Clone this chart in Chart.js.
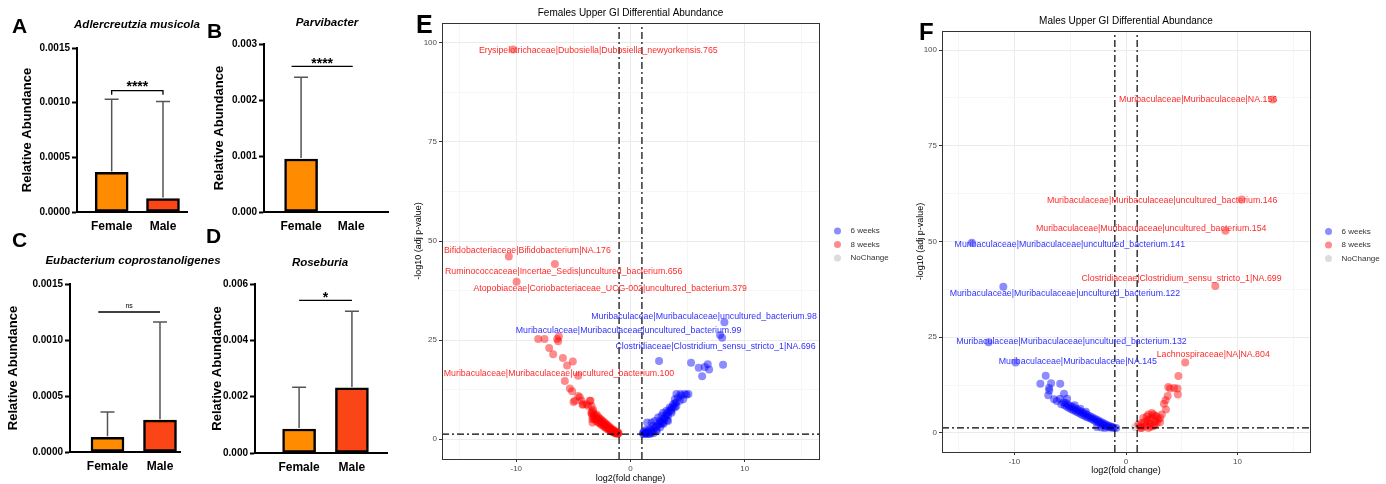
<!DOCTYPE html>
<html>
<head>
<meta charset="utf-8">
<script src="https://cdn.jsdelivr.net/npm/chart.js@4.4.0/dist/chart.umd.min.js"></script>
<style>
  body { margin: 0; background: #fff; width: 1386px; height: 484px; position: relative; overflow: hidden; font-family: "Liberation Sans", Arial, sans-serif; }
  canvas { position: absolute; }
  .letter { position: absolute; font-weight: bold; line-height: 1; color: #000; }
  .ptitle { position: absolute; width: 240px; text-align: center; font-weight: bold; font-style: italic; font-size: 11.5px; line-height: 1; color: #000; }
</style>
</head>
<body>
<canvas id="cA" width="200" height="240" style="left:0;top:0"></canvas>
<canvas id="cB" width="200" height="240" style="left:200px;top:0"></canvas>
<canvas id="cC" width="200" height="244" style="left:0;top:240px"></canvas>
<canvas id="cD" width="200" height="244" style="left:200px;top:240px"></canvas>
<canvas id="cE" width="500" height="484" style="left:400px;top:0"></canvas>
<canvas id="cF" width="486" height="484" style="left:900px;top:0"></canvas>

<div class="letter" style="left:12px;top:15px;font-size:21px">A</div>
<div class="letter" style="left:207px;top:20px;font-size:21px">B</div>
<div class="letter" style="left:12px;top:229px;font-size:21px">C</div>
<div class="letter" style="left:206px;top:225px;font-size:21px">D</div>
<div class="letter" style="left:416px;top:12px;font-size:25px">E</div>
<div class="letter" style="left:919px;top:20px;font-size:24px">F</div>

<div class="ptitle" style="left:17px;top:19px">Adlercreutzia musicola</div>
<div class="ptitle" style="left:207px;top:17px">Parvibacter</div>
<div class="ptitle" style="left:13px;top:255px">Eubacterium coprostanoligenes</div>
<div class="ptitle" style="left:200px;top:257px">Roseburia</div>

<script>
// bar panels A-D
var groups = ["Female", "Male"];
var barColors = ["#FF8C00", "#FA4616"];

var meanA = [0.000362, 0.000123];
var sdA = [0.00067, 0.000887];
var ticksA = [0, 0.0005, 0.001, 0.0015];

var meanB = [0.000946, 0];
var sdB = [0.00146, 0];
var ticksB = [0, 0.001, 0.002, 0.003];

var meanC = [0.000132, 0.000284];
var sdC = [0.000226, 0.000876];
var ticksC = [0, 0.0005, 0.001, 0.0015];

var meanD = [0.000852, 0.00231];
var sdD = [0.00148, 0.00272];
var ticksD = [0, 0.002, 0.004, 0.006];

// volcano panels E-F : [log2 fold change, -log10 adj p]
var FC_CUT = 1;
var P_CUT = 1.3;
var X_MIN = -16.5, X_MAX = 16.5, Y_MIN = -5, Y_MAX = 105;
var xGrid = [-15, -10, -5, 0, 5, 10, 15];
var yGrid = [0, 12.5, 25, 37.5, 50, 62.5, 75, 87.5, 100];

var blueE = [[8.22,29.5],[7.84,26.3],[8.02,25.6],[2.5,19.7],[5.3,19.3],[5.97,18.0],[6.76,18.9],[8.1,18.8],[6.5,18.2],[6.88,17.6],[6.27,15.9],
  [4.02,11.4],[4.37,11.4],[4.75,11.4],[5.07,11.4],[4.17,10.5],[3.88,10.1],[4.32,9.7],[4.61,10.1],[4.46,11.0],[4.9,11.2],[3.73,8.8],[4.02,8.4],
  [4.02,9.3],[3.88,8.0],[3.44,8.0],[3.59,7.2],[3.15,7.2],[3.59,6.7],[2.86,6.7],[3.15,6.1],[3.3,5.9],[2.71,5.9],[3.0,5.1],[2.42,5.5],[2.13,4.6],
  [2.57,4.6],[2.85,4.2],[3.29,4.6],[1.84,4.2],[1.46,4.2],[1.98,3.4],[2.71,3.8],[1.69,2.5],[2.27,2.5],[1.4,2.4],[1.25,1.7],[1.11,1.3],[1.54,1.3],
  [1.84,1.7],[1.4,1.5],[1.2,2.0],[1.35,1.5],[1.5,2.0],[1.65,1.6],[1.8,2.3],[1.95,2.0],[2.1,2.8],[2.25,3.2],[2.4,3.6],[2.55,4.0],[2.7,4.4],
  [2.85,5.0],[3.0,5.5],[3.15,6.3],[3.3,6.8],[3.45,7.3],[3.6,7.8],[3.75,8.3],[3.9,9.0],[2.0,1.5],[2.3,2.0],[2.6,3.0],[2.9,3.9],[3.2,4.8],
  [1.1,1.6],[1.28,1.3],[1.7,1.3]];
var redE = [[-10.27,98.3],[-10.65,46.1],[-6.62,44.2],[-9.97,39.7],[-8.08,25.3],[-7.53,25.3],[-6.27,25.9],[-6.42,25.3],[-6.33,24.7],[-7.12,23.0],
  [-6.77,21.4],[-5.92,20.5],[-5.05,19.6],[-5.55,18.6],[-4.58,16.0],[-5.75,14.7],[-5.31,12.8],[-5.11,12.1],[-4.58,10.9],[-4.44,10.6],[-3.5,9.7],
  [-4.99,9.4],[-4.15,8.8],[-3.71,8.4],[-4.87,9.7],[-4.29,9.7],[-3.56,9.7],[-3.41,8.4],[-3.85,8.8],[-3.27,7.4],[-3.41,6.7],[-4.2,8.7],
  [-3.42,6.6],[-3.35,5.9],[-3.3,7.0],[-3.25,5.4],[-3.2,6.3],[-3.15,5.0],[-3.1,6.0],[-3.05,5.5],[-3.0,4.6],[-2.97,6.2],[-2.92,5.2],[-2.88,4.4],
  [-2.85,5.7],[-2.8,4.9],[-2.76,4.1],[-2.72,5.3],[-2.68,4.6],[-2.64,3.9],[-2.6,5.0],[-2.56,4.3],[-2.52,3.6],[-2.48,4.7],[-2.44,4.0],[-2.4,3.4],
  [-2.36,4.4],[-2.32,3.7],[-2.28,3.1],[-2.24,4.1],[-2.2,3.5],[-2.16,2.9],[-2.12,3.8],[-2.08,3.2],[-2.04,2.6],[-2.0,3.5],[-1.96,2.9],[-1.92,2.4],
  [-1.88,3.2],[-1.84,2.7],[-1.8,2.2],[-1.76,2.9],[-1.72,2.4],[-1.68,2.0],[-1.64,2.6],[-1.6,2.2],[-1.56,1.8],[-1.52,2.4],[-1.48,1.9],[-1.44,1.6],
  [-1.4,2.1],[-1.36,1.7],[-1.32,1.5],[-1.28,1.9],[-1.24,1.6],[-1.2,1.4],[-1.16,1.7],[-1.12,1.5],[-1.08,1.35],[-1.05,1.6],[-3.33,5.05],[-3.33,4.2]];
var greyE = [];

var blueF = [[-13.82,49.7],[-11.0,38.2],[-12.32,23.7],[-9.9,18.4],
  [-7.2,14.9],[-7.68,12.8],[-6.72,12.95],[-5.9,12.8],[-6.9,11.7],[-6.88,11.1],[-6.97,9.8],[-6.45,8.8],[-5.56,10.25],[-5.92,8.9],[-5.28,8.9],
  [-5.6,8.0],[-5.5,7.2],[-5.4,7.8],[-5.3,6.8],[-5.2,7.4],[-5.1,6.5],[-5.0,7.0],[-4.9,6.2],[-4.8,6.8],[-4.7,5.9],[-4.6,6.4],[-4.5,5.6],
  [-4.4,6.1],[-4.3,5.3],[-4.2,5.8],[-4.1,5.0],[-4.0,5.5],[-3.9,4.7],[-3.8,5.2],[-3.7,4.4],[-3.6,4.9],[-3.5,4.1],[-3.4,4.6],[-3.3,3.9],
  [-3.2,4.3],[-3.1,3.6],[-3.0,4.0],[-2.9,3.3],[-2.8,3.7],[-2.7,3.0],[-2.6,3.4],[-2.5,2.8],[-2.4,3.1],[-2.3,2.5],[-2.2,2.8],[-2.1,2.2],
  [-2.0,2.5],[-1.9,1.9],[-1.8,2.2],[-1.7,1.6],[-1.6,1.9],[-1.5,1.4],[-1.4,1.7],[-1.3,1.4],[-1.2,1.5],[-1.1,1.3],[-2.2,1.4],[-2.6,1.5],
  [-1.9,1.3],[-4.6,7.2],[-4.1,6.3],[-3.6,5.5],[-5.8,7.5],[-6.2,8.3],[-0.88,1.3]];
var redF = [[13.16,87.1],[10.37,61.0],[8.92,52.8],[8.01,38.4],[5.31,18.4],[4.7,14.85],[3.79,12.0],[4.32,11.75],[3.95,11.6],[4.62,11.6],
  [4.65,10.0],[3.74,9.6],[3.55,8.5],[3.4,7.6],[3.58,6.1],
  [2.0,4.8],[2.45,4.8],[2.76,4.3],[3.05,3.9],[2.16,3.5],[2.6,3.0],[1.71,3.0],[1.41,2.6],[1.11,2.2],[1.86,2.2],[2.45,1.7],[1.41,1.3],
  [2.0,1.3],[2.76,2.6],[2.9,3.5],[1.55,3.9],[2.31,3.9],[1.86,4.3],[2.31,5.2],[3.21,4.8],[1.26,1.7],[1.71,1.7],[2.16,2.4],[3.05,2.8],
  [2.6,4.5],[1.95,3.3],[2.2,1.6],[2.55,2.1],[1.3,1.3]];
var greyF = [[0.81,1.5]];

// text labels (ggrepel), anchored in data units
var RED_TXT = "#FF2A2A", BLUE_TXT = "#3030FF";
var labelsE = [
  ["Erysipelotrichaceae|Dubosiella|Dubosiella_newyorkensis.765", -2.82, 98.1, RED_TXT],
  ["Bifidobacteriaceae|Bifidobacterium|NA.176", -9.03, 47.7, RED_TXT],
  ["Ruminococcaceae|Incertae_Sedis|uncultured_bacterium.656", -5.85, 42.2, RED_TXT],
  ["Atopobiaceae|Coriobacteriaceae_UCG-002|uncultured_bacterium.379", -1.78, 37.95, RED_TXT],
  ["Muribaculaceae|Muribaculaceae|uncultured_bacterium.98", 6.44, 31.06, BLUE_TXT],
  ["Muribaculaceae|Muribaculaceae|uncultured_bacterium.99", -0.17, 27.5, BLUE_TXT],
  ["Clostridiaceae|Clostridium_sensu_stricto_1|NA.696", 7.44, 23.4, BLUE_TXT],
  ["Muribaculaceae|Muribaculaceae|uncultured_bacterium.100", -6.26, 16.5, RED_TXT]
];
var labelsF = [
  ["Muribaculaceae|Muribaculaceae|NA.156", 6.47, 86.96, RED_TXT],
  ["Muribaculaceae|Muribaculaceae|uncultured_bacterium.146", 3.24, 60.7, RED_TXT],
  ["Muribaculaceae|Muribaculaceae|uncultured_bacterium.154", 2.26, 53.4, RED_TXT],
  ["Muribaculaceae|Muribaculaceae|uncultured_bacterium.141", -5.04, 49.1, BLUE_TXT],
  ["Clostridiaceae|Clostridium_sensu_stricto_1|NA.699", 4.98, 40.2, RED_TXT],
  ["Muribaculaceae|Muribaculaceae|uncultured_bacterium.122", -5.48, 36.5, BLUE_TXT],
  ["Muribaculaceae|Muribaculaceae|uncultured_bacterium.132", -4.89, 23.9, BLUE_TXT],
  ["Muribaculaceae|Muribaculaceae|NA.145", -4.32, 18.5, BLUE_TXT],
  ["Lachnospiraceae|NA|NA.804", 7.82, 20.5, RED_TXT]
];

var FONT = '"Liberation Sans", Arial, sans-serif';
Chart.defaults.font.family = FONT;

// upward SD whiskers
var errorBarPlugin = {
  id: "errorBars",
  afterDatasetsDraw: function (chart, args, o) {
    var ctx = chart.ctx, x = chart.scales.x, y = chart.scales.y;
    ctx.save();
    ctx.strokeStyle = "#555";
    ctx.lineWidth = 1.5;
    o.mean.forEach(function (m, i) {
      if (!o.sd[i]) return;
      var px = x.getPixelForValue(i + 1);
      var top = y.getPixelForValue(m + o.sd[i]);
      ctx.beginPath();
      ctx.moveTo(px, y.getPixelForValue(m) - 1);
      ctx.lineTo(px, top);
      ctx.moveTo(px - 7, top);
      ctx.lineTo(px + 7, top);
      ctx.stroke();
    });
    ctx.restore();
  }
};

// significance bracket
var bracketPlugin = {
  id: "sigBracket",
  afterDatasetsDraw: function (chart, args, o) {
    var ctx = chart.ctx, x = chart.scales.x, y = chart.scales.y;
    var x1 = x.getPixelForValue(o.x1), x2 = x.getPixelForValue(o.x2), py = y.getPixelForValue(o.y);
    ctx.save();
    ctx.strokeStyle = "#000";
    ctx.lineWidth = 1.3;
    ctx.beginPath();
    if (o.drop) {
      ctx.moveTo(x1, py + o.drop); ctx.lineTo(x1, py); ctx.lineTo(x2, py); ctx.lineTo(x2, py + o.drop);
    } else {
      ctx.moveTo(x1, py); ctx.lineTo(x2, py);
    }
    ctx.stroke();
    ctx.fillStyle = "#000";
    ctx.font = (o.bold ? "bold " : "") + o.size + "px " + FONT;
    ctx.textAlign = "center";
    ctx.textBaseline = "alphabetic";
    ctx.fillText(o.text, (x1 + x2) / 2, py + o.lift);
    ctx.restore();
  }
};

function barPanel(id, mean, sd, yTicks, dec, xMin, xMax, box, sig) {
  return new Chart(document.getElementById(id), {
    type: "bar",
    data: {
      datasets: [{
        data: groups.map(function (g, i) { return { x: i + 1, y: mean[i] }; }),
        backgroundColor: barColors,
        borderColor: "#000",
        borderWidth: 2.5,
        borderSkipped: false,
        barThickness: 33
      }]
    },
    options: {
      responsive: false,
      animation: false,
      events: [],
      layout: { padding: box.pad },
      plugins: {
        legend: { display: false },
        tooltip: { enabled: false },
        errorBars: { mean: mean, sd: sd },
        sigBracket: sig
      },
      scales: {
        x: {
          type: "linear", min: xMin, max: xMax, offset: false,
          afterBuildTicks: function (s) { s.ticks = groups.map(function (g, i) { return { value: i + 1 }; }); },
          afterFit: function (s) { s.height = box.xH; },
          grid: { display: false, drawTicks: false },
          border: { display: true, color: "#000", width: 2 },
          ticks: { callback: function (v) { return groups[v - 1]; }, color: "#000", font: { size: 12, weight: "bold" }, padding: 7, autoSkip: false, maxRotation: 0 }
        },
        y: {
          min: yTicks[0], max: yTicks[yTicks.length - 1],
          afterBuildTicks: function (s) { s.ticks = yTicks.map(function (v) { return { value: v }; }); },
          afterFit: function (s) { s.width = box.yW; },
          grid: { drawOnChartArea: false, tickLength: 5, tickWidth: 2, tickColor: "#000" },
          border: { display: true, color: "#000", width: 2 },
          ticks: { callback: function (v) { return v.toFixed(dec); }, color: "#000", font: { size: 10, weight: "bold" }, padding: 2 },
          title: { display: true, text: "Relative Abundance", color: "#000", font: { size: 13, weight: "bold" }, padding: { top: 4, bottom: 0 } }
        }
      }
    },
    plugins: [errorBarPlugin, bracketPlugin]
  });
}

barPanel("cA", meanA, sdA, ticksA, 4, 0.324, 2.468,
  { pad: { left: 16, right: 13, top: 48, bottom: 0 }, yW: 61, xH: 28 },
  { x1: 1, x2: 2, y: 0.00111, drop: 4, text: "****", size: 14, bold: true, lift: 0 });
barPanel("cB", meanB, sdB, ticksB, 3, 0.26, 2.734,
  { pad: { left: 8, right: 12, top: 44, bottom: 0 }, yW: 56, xH: 28 },
  { x1: 0.81, x2: 2.03, y: 0.0026, drop: 0, text: "****", size: 14, bold: true, lift: 2 });
barPanel("cC", meanC, sdC, ticksC, 4, 0.286, 2.381,
  { pad: { left: 2, right: 20, top: 44, bottom: 0 }, yW: 68, xH: 32 },
  { x1: 0.825, x2: 2.0, y: 0.00125, drop: 0, text: "ns", size: 7, bold: false, lift: -4.5 });
barPanel("cD", meanD, sdD, ticksD, 3, 0.165, 2.664,
  { pad: { left: 6, right: 13, top: 44, bottom: 0 }, yW: 49, xH: 31 },
  { x1: 1, x2: 2, y: 0.00542, drop: 0, text: "*", size: 14, bold: true, lift: 2 });

// ggplot-like panel border
var panelBoxPlugin = {
  id: "panelBox",
  afterDatasetsDraw: function (chart) {
    var a = chart.chartArea, ctx = chart.ctx;
    ctx.save();
    ctx.strokeStyle = "#333";
    ctx.lineWidth = 1;
    ctx.strokeRect(Math.round(a.left) + 0.5, Math.round(a.top) + 0.5, Math.round(a.right - a.left), Math.round(a.bottom - a.top));
    ctx.restore();
  }
};

// repelled-style text labels
var textLabelPlugin = {
  id: "textLabels",
  afterDraw: function (chart, args, o) {
    var ctx = chart.ctx, x = chart.scales.x, y = chart.scales.y;
    ctx.save();
    ctx.font = "8.8px " + FONT;
    ctx.textAlign = "center";
    ctx.textBaseline = "middle";
    o.items.forEach(function (l) {
      ctx.fillStyle = l[3];
      ctx.fillText(l[0], x.getPixelForValue(l[1]), y.getPixelForValue(l[2]));
    });
    ctx.restore();
  }
};

// legend at the right of the panel
var sideLegendPlugin = {
  id: "sideLegend",
  afterDraw: function (chart, args, o) {
    var ctx = chart.ctx, a = chart.chartArea;
    var items = chart.data.datasets.filter(function (d) { return d.inLegend; });
    var cy = (a.top + a.bottom) / 2 - 10;
    ctx.save();
    ctx.font = "8px " + FONT;
    ctx.textAlign = "left";
    ctx.textBaseline = "middle";
    items.forEach(function (d, i) {
      var yy = cy + i * 13.5;
      ctx.fillStyle = d.backgroundColor;
      ctx.beginPath();
      ctx.arc(a.right + o.dx, yy, 3.5, 0, Math.PI * 2);
      ctx.fill();
      ctx.fillStyle = "#333";
      ctx.fillText(d.label, a.right + o.dx + 13, yy);
    });
    ctx.restore();
  }
};

function pointSet(label, pts, color) {
  return {
    label: label, inLegend: true, order: 2,
    data: pts.map(function (p) { return { x: p[0], y: p[1] }; }),
    backgroundColor: color, borderWidth: 0, pointRadius: 4
  };
}
function cutLine(pts) {
  return {
    type: "line", order: 1,
    data: pts.map(function (p) { return { x: p[0], y: p[1] }; }),
    borderColor: "#000", borderWidth: 1.2, borderDash: [7, 3, 2, 3], pointRadius: 0, fill: false
  };
}

function volcano(id, title, blue, red, grey, labels, box) {
  return new Chart(document.getElementById(id), {
    type: "scatter",
    data: {
      datasets: [
        pointSet("6 weeks", blue, "rgba(0,0,255,0.45)"),
        pointSet("8 weeks", red, "rgba(255,0,0,0.45)"),
        pointSet("NoChange", grey, "rgba(185,185,185,0.5)"),
        cutLine([[-FC_CUT, Y_MIN], [-FC_CUT, Y_MAX]]),
        cutLine([[FC_CUT, Y_MIN], [FC_CUT, Y_MAX]]),
        cutLine([[X_MIN, P_CUT], [X_MAX, P_CUT]])
      ]
    },
    options: {
      responsive: false,
      animation: false,
      events: [],
      layout: { padding: box.pad },
      plugins: {
        legend: { display: false },
        tooltip: { enabled: false },
        title: { display: true, text: title, fullSize: false, color: "#000", font: { size: 10, weight: "normal" }, padding: { top: 0, bottom: 4 } },
        textLabels: { items: labels },
        sideLegend: { dx: 18.5 }
      },
      scales: {
        x: {
          type: "linear", min: X_MIN, max: X_MAX,
          afterBuildTicks: function (s) { s.ticks = xGrid.map(function (v) { return { value: v }; }); },
          afterFit: function (s) { s.height = box.xH; },
          grid: {
            color: function (c) { return c.tick && c.tick.value % 10 === 0 ? "#EBEBEB" : "#F6F6F6"; },
            tickColor: function (c) { return c.tick && c.tick.value % 10 === 0 ? "#333" : "rgba(0,0,0,0)"; },
            tickLength: 3
          },
          border: { display: false },
          ticks: { callback: function (v) { return v % 10 === 0 ? v : ""; }, color: "#4D4D4D", font: { size: 8 }, padding: 2, autoSkip: false, maxRotation: 0 },
          title: { display: true, text: "log2(fold change)", color: "#000", font: { size: 9 }, padding: { top: 0, bottom: 0 } }
        },
        y: {
          min: Y_MIN, max: Y_MAX,
          afterBuildTicks: function (s) { s.ticks = yGrid.map(function (v) { return { value: v }; }); },
          afterFit: function (s) { s.width = box.yW; },
          grid: {
            color: function (c) { return c.tick && c.tick.value % 25 === 0 ? "#EBEBEB" : "#F6F6F6"; },
            tickColor: function (c) { return c.tick && c.tick.value % 25 === 0 ? "#333" : "rgba(0,0,0,0)"; },
            tickLength: 3
          },
          border: { display: false },
          ticks: { callback: function (v) { return v % 25 === 0 ? v : ""; }, color: "#4D4D4D", font: { size: 8 }, padding: 2 },
          title: { display: true, text: "-log10 (adj p-value)", color: "#000", font: { size: 9 }, padding: { top: 1, bottom: 0 } }
        }
      }
    },
    plugins: [panelBoxPlugin, textLabelPlugin, sideLegendPlugin]
  });
}

volcano("cE", "Females Upper GI Differential Abundance", blueE, redE, greyE, labelsE,
  { pad: { left: 12, right: 81, top: 7, bottom: 0 }, yW: 30, xH: 25 });
volcano("cF", "Males Upper GI Differential Abundance", blueF, redF, greyF, labelsF,
  { pad: { left: 14, right: 76, top: 15, bottom: 8 }, yW: 28, xH: 24 });
</script>
</body>
</html>
